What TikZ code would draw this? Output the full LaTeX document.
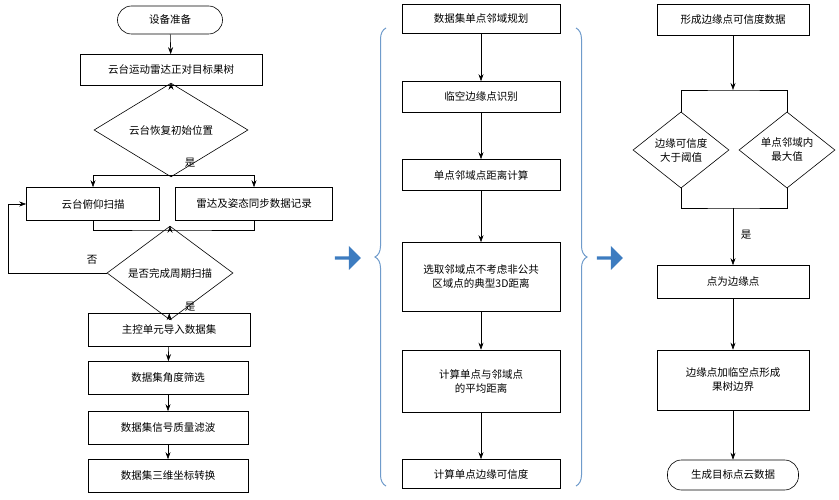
\documentclass[tikz,border=0pt]{standalone}
\usepackage{fontspec}
\setmainfont{Noto Sans CJK SC}
\usetikzlibrary{shapes.geometric,shapes.arrows,decorations.pathreplacing,arrows.meta}
\definecolor{braceblue}{HTML}{6F9BCB}
\definecolor{arrowblue}{HTML}{3D7CC0}
\tikzset{
    box/.style={draw, rectangle, minimum width=158pt, minimum height=31pt, align=center, font=\fontsize{10.5}{14}\selectfont},
    term/.style={draw, rounded corners=14pt, minimum width=105pt, minimum height=28pt, font=\fontsize{10.5}{14}\selectfont},
    dia/.style={draw, diamond, minimum width=154pt, minimum height=54pt, inner sep=0pt, align=center, font=\fontsize{10.5}{14}\selectfont},
    lbl/.style={font=\fontsize{10.5}{14}\selectfont},
    blockarrow/.style={single arrow, fill=arrowblue, minimum width=24pt, minimum height=26pt, inner sep=0pt, single arrow head extend=2pt},
    >={Stealth[length=7pt,width=5pt]}
}
\begin{document}
\begin{tikzpicture}[x=1pt,y=-1pt, line width=0.6pt]
    \useasboundingbox (0,0) rectangle (839,500);

    % left column
    \node [term] (start) at (170,20) {设备准备};
    \node [box, minimum width=182pt] (aim) at (171,70) {云台运动雷达正对目标果树};
    \node [dia] (reset) at (171,130) {云台恢复初始位置};
    \node [box, minimum width=133pt, minimum height=33pt] (scan) at (93,204) {云台俯仰扫描};
    \node [box, minimum width=157pt, minimum height=33pt] (rec) at (254,204) {雷达及姿态同步数据记录};
    \node [dia, minimum width=126pt] (cycle) at (170,273) {是否完成周期扫描};
    \node [box, minimum width=162pt, minimum height=33pt] (load) at (169,330) {主控单元导入数据集};
    \node [box, minimum width=160pt, minimum height=33pt] (angle) at (168,378) {数据集角度筛选};
    \node [box, minimum width=160pt, minimum height=33pt] (filt) at (168,428) {数据集信号质量滤波};
    \node [box, minimum width=160pt, minimum height=33pt] (conv) at (168,476) {数据集三维坐标转换};
    \coordinate (split) at (171,175);
    \coordinate (join) at (170,230);

    \draw [->] (start) -- (aim);
    \draw [->] (aim) -- (reset);
    \draw (reset) -- (split);
    \draw [->] (split) -| (scan.north);
    \draw [->] (split) -| (rec.north);
    \draw (scan.south) |- (join) -| (rec.south);
    \draw [->] (join) -- (cycle);
    \draw [->] (cycle.west) -- (8,273) |- (scan.west);
    \draw [->] (cycle) -- (load);
    \draw [->] (load) -- (angle);
    \draw [->] (angle) -- (filt);
    \draw [->] (filt) -- (conv);
    \node [lbl] at (190,163) {是};
    \node [lbl] at (92,260) {否};
    \node [lbl] at (190,307) {是};

    % middle column
    \node [box, minimum height=29pt] (plan) at (481,19) {数据集单点邻域规划};
    \node [box] (edge) at (481,97) {临空边缘点识别};
    \node [box] (dist) at (481,175) {单点邻域点距离计算};
    \node [box, minimum height=69pt] (typ) at (481,277) {选取邻域点不考虑非公共\\区域点的典型3D距离};
    \node [box, minimum height=62pt] (avg) at (481,381) {计算单点与邻域点\\的平均距离};
    \node [box, minimum height=29pt] (conf) at (481,474) {计算单点边缘可信度};
    \draw [->] (plan) -- (edge);
    \draw [->] (edge) -- (dist);
    \draw [->] (dist) -- (typ);
    \draw [->] (typ) -- (avg);
    \draw [->] (avg) -- (conf);

    \draw [braceblue, line width=1pt, decorate, decoration={brace, amplitude=11pt}] (386,486) -- (386,28);
    \draw [braceblue, line width=1pt, decorate, decoration={brace, amplitude=11pt}] (576,28) -- (576,486);
    \node [blockarrow] (go1) at (347,258) {};
    \node [blockarrow] (go2) at (609,258) {};

    % right column
    \node [box, minimum width=152pt] (form) at (733,20) {形成边缘点可信度数据};
    \node [dia, minimum width=96pt, minimum height=66pt] (thr) at (681,150) {边缘可信度\\大于阈值};
    \node [dia, minimum width=96pt, minimum height=66pt] (max) at (787,150) {单点邻域内\\最大值};
    \node [box, minimum width=152pt, minimum height=33pt] (pt) at (733,282) {点为边缘点};
    \node [box, minimum width=152pt, minimum height=60pt] (bnd) at (733,380) {边缘点加临空点形成\\果树边界};
    \node [term, minimum width=131pt, minimum height=30pt] (cloud) at (733,475) {生成目标点云数据};
    \coordinate (rsplit) at (733,90);
    \coordinate (rjoin) at (733,208);
    \draw [->] (form) -- (rsplit);
    \draw (thr.north) |- (rsplit) -| (max.north);
    \draw (thr.south) |- (rjoin) -| (max.south);
    \draw [->] (rjoin) -- (pt);
    \draw [->] (pt) -- (bnd);
    \draw [->] (bnd) -- (cloud);
    \node [lbl] at (746,235) {是};
\end{tikzpicture}
\end{document}
